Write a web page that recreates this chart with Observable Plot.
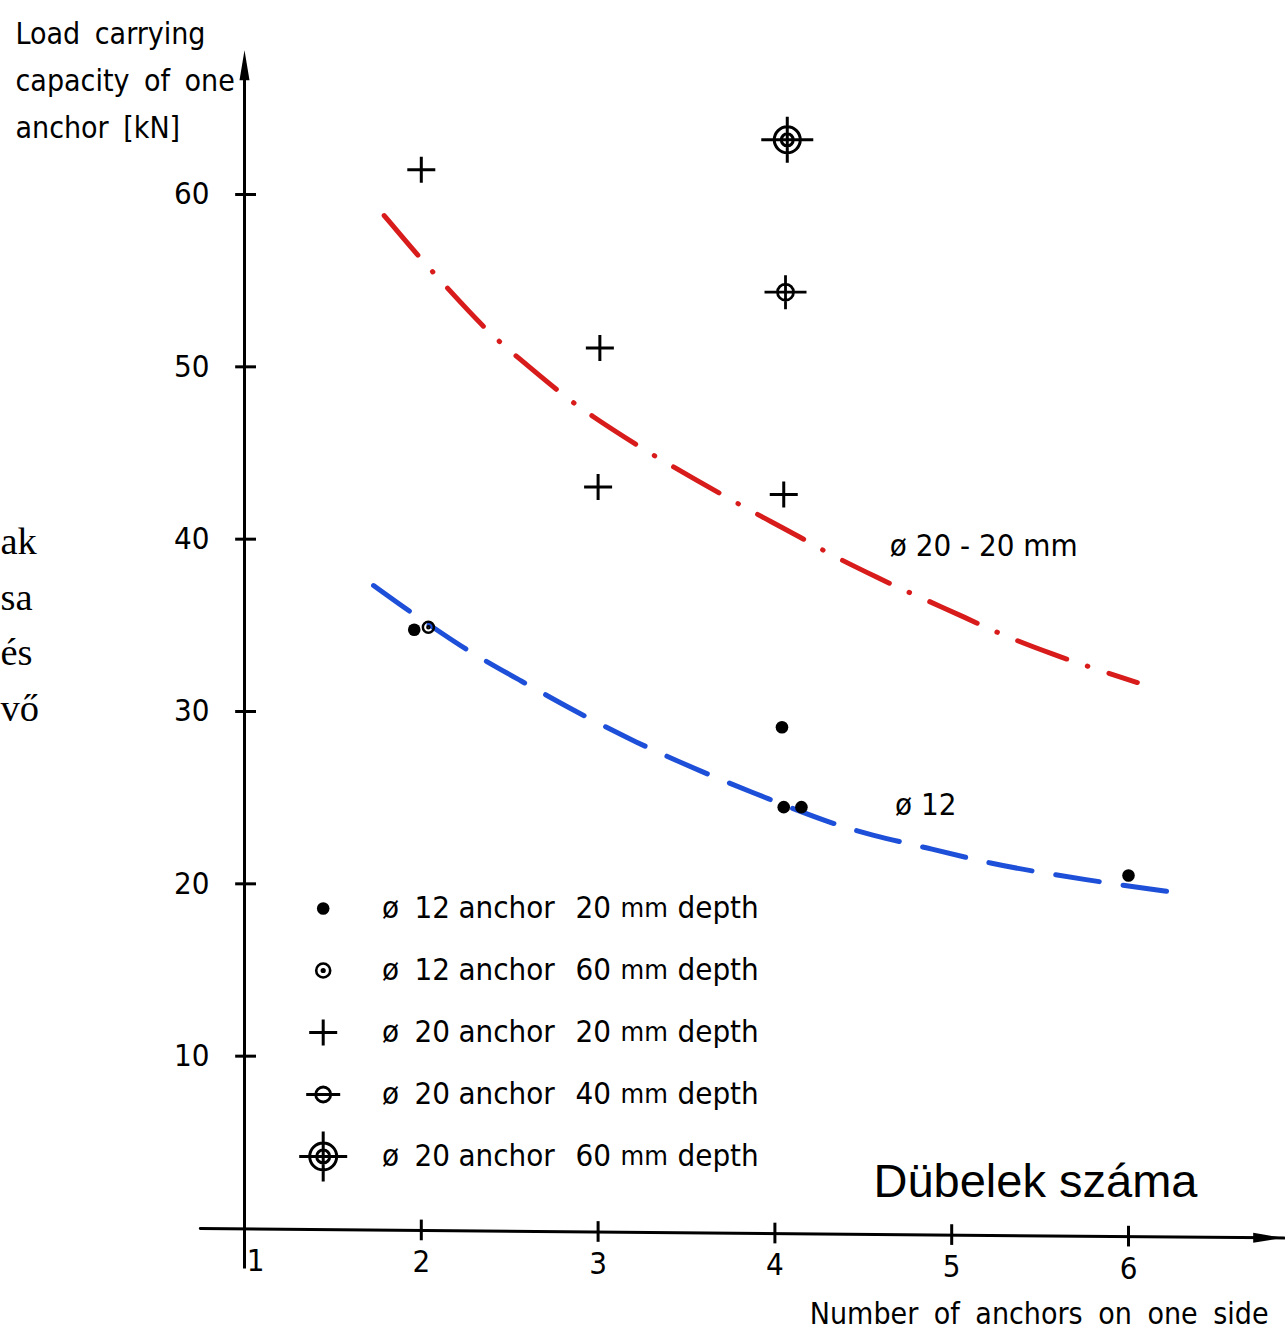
<!DOCTYPE html>
<html>
<head>
<meta charset="utf-8">
<script src="https://cdn.jsdelivr.net/npm/d3@7"></script>
<script src="https://cdn.jsdelivr.net/npm/@observablehq/plot@0.6"></script>
<style>
  html, body { margin: 0; padding: 0; background: #fff; }
  #chart svg { display: block; }
</style>
</head>
<body>
<div id="chart"></div>
<script>
// ---------------- data ----------------
const xTicks = [1, 2, 3, 4, 5, 6];
const yTicks = [10, 20, 30, 40, 50, 60];

// measured points [anchors on one side, load per anchor kN]
const dia12Depth20 = [[1.96, 34.74], [4.04, 29.09], [4.05, 24.45], [4.15, 24.45], [6.0, 20.48]];
const dia12Depth60 = [[2.04, 34.89]];
const dia20Depth20 = [[2.00, 61.43], [3.01, 51.10], [3.00, 43.02], [4.05, 42.59]];
const dia20Depth40 = [[4.06, 54.33]];
const dia20Depth60 = [[4.07, 63.17]];

// fitted curves
const curveDia20 = [[1.79, 58.78], [1.98, 56.46], [2.16, 54.43], [2.38, 51.99], [2.54, 50.60], [2.79, 48.45],
  [2.95, 47.23], [3.25, 45.26], [3.41, 44.28], [3.73, 42.42], [3.86, 41.66], [4.17, 39.98], [4.30, 39.17],
  [4.59, 37.72], [4.77, 36.85], [5.09, 35.40], [5.29, 34.41], [5.59, 33.25], [5.79, 32.55], [6.05, 31.68]];
const curveDia12 = [[1.73, 37.31], [1.94, 35.76], [2.12, 34.51], [2.29, 33.35], [2.56, 31.80], [2.86, 30.06],
  [3.21, 28.22], [3.59, 26.48], [3.94, 25.02], [4.30, 23.57], [4.55, 22.80], [4.89, 22.03], [5.22, 21.16],
  [5.55, 20.58], [5.91, 20.00], [6.25, 19.52]];

const curveLabels = [
  {x: 4.65, y: 39.6, text: "ø 20 - 20 mm"},
  {x: 4.68, y: 24.55, text: "ø 12"}
];

const legendRows = [
  ["ø", "12", "anchor", "20", "mm", "depth"],
  ["ø", "12", "anchor", "60", "mm", "depth"],
  ["ø", "20", "anchor", "20", "mm", "depth"],
  ["ø", "20", "anchor", "40", "mm", "depth"],
  ["ø", "20", "anchor", "60", "mm", "depth"]
];

const yTitle = "Load carrying\ncapacity of one\nanchor [kN]";
const xTitle = "Number of anchors on one side";
const huTitle = "Dübelek száma";
const sideText = "ak\nsa\nés\nvő";

// ---------------- layout / styles ----------------
const FONT = "'DejaVu Sans Condensed', 'DejaVu Sans', sans-serif";
const xAxisEnds = [[0.75, 0.0], [6.88, -0.55]];
const axisAt = x => xAxisEnds[0][1] + (x - xAxisEnds[0][0]) * (xAxisEnds[1][1] - xAxisEnds[0][1]) / (xAxisEnds[1][0] - xAxisEnds[0][0]);
const yAxisSpan = [-2.35, 67.0];

const circ = (ctx, r) => { ctx.moveTo(r, 0); ctx.arc(0, 0, r, 0, 2 * Math.PI); };
const symPlus = {draw(ctx) { ctx.moveTo(-14, 0); ctx.lineTo(14, 0); ctx.moveTo(0, -13); ctx.lineTo(0, 13); }};
const symRing = {draw(ctx) { circ(ctx, 5.5); circ(ctx, 1); }};
const symRingLegend = {draw(ctx) { circ(ctx, 7); circ(ctx, 1.3); }};
const symCircleCross = {draw(ctx) { circ(ctx, 8); ctx.moveTo(-21, 0); ctx.lineTo(21, 0); ctx.moveTo(0, -17); ctx.lineTo(0, 17); }};
const symCircleBar = {draw(ctx) { circ(ctx, 7.5); ctx.moveTo(-17, 0); ctx.lineTo(17, 0); }};
const symTarget = {draw(ctx) { circ(ctx, 13); circ(ctx, 6); ctx.moveTo(-26, 0); ctx.lineTo(26, 0); ctx.moveTo(0, -23); ctx.lineTo(0, 23); }};
const symTargetLegend = {draw(ctx) { circ(ctx, 13.5); circ(ctx, 6.5); ctx.moveTo(-24, 0); ctx.lineTo(24, 0); ctx.moveTo(0, -25); ctx.lineTo(0, 25); }};
const symArrow = {draw(ctx) { ctx.moveTo(0, -15); ctx.lineTo(5, 15); ctx.lineTo(-5, 15); ctx.closePath(); }};

const X = d => d[0], Y = d => d[1];

const legendSymbolMarks = [
  o => Plot.dot([0], {...o, r: 6.3, fill: "black", stroke: "none"}),
  o => Plot.dot([0], {...o, symbol: symRingLegend, stroke: "black", fill: "none", strokeWidth: 2.6}),
  o => Plot.dot([0], {...o, symbol: symPlus, stroke: "black", fill: "none", strokeWidth: 3}),
  o => Plot.dot([0], {...o, symbol: symCircleBar, stroke: "black", fill: "none", strokeWidth: 2.8}),
  o => Plot.dot([0], {...o, symbol: symTargetLegend, stroke: "black", fill: "none", strokeWidth: 3})
];
const legendCols = [
  {dx: 390, anchor: "middle", size: 31}, {dx: 414, anchor: "start", size: 31}, {dx: 458, anchor: "start", size: 31},
  {dx: 575, anchor: "start", size: 31}, {dx: 620, anchor: "start", size: 27}, {dx: 677, anchor: "start", size: 31}
];

const legendMarks = [];
legendRows.forEach((row, i) => {
  const dy = 908 + 62 * i;
  legendMarks.push(legendSymbolMarks[i]({frameAnchor: "top-left", dx: 322.7, dy}));
  row.forEach((word, j) => {
    legendMarks.push(Plot.text([word], {
      text: d => d, frameAnchor: "top-left", dx: legendCols[j].dx, dy,
      textAnchor: legendCols[j].anchor, lineAnchor: "middle",
      fontSize: legendCols[j].size, fontFamily: FONT, fill: "black"
    }));
  });
});

const chart = Plot.plot({
  width: 1285,
  height: 1330,
  margin: 0,
  style: {background: "white", color: "black"},
  x: {domain: [1, 6], range: [244, 1128], axis: null},
  y: {domain: [0, 60], range: [1228, 194], axis: null},
  marks: [
    // axes
    Plot.ruleX([1], {x: d => d, y1: yAxisSpan[0], y2: yAxisSpan[1], stroke: "black", strokeWidth: 3}),
    Plot.line(xAxisEnds, {x: X, y: Y, stroke: "black", strokeWidth: 3}),
    Plot.dot([0], {x: () => 1, y: () => 67.5, symbol: symArrow, fill: "black", stroke: "none"}),
    Plot.dot([0], {x: () => 6.79, y: () => axisAt(6.79), symbol: symArrow, rotate: 90, fill: "black", stroke: "none"}),
    Plot.ruleY(yTicks, {y: d => d, x1: () => 0.95, x2: () => 1.068, stroke: "black", strokeWidth: 3}),
    Plot.ruleX(xTicks.filter(d => d > 1), {x: d => d, y1: d => axisAt(d) - 0.6, y2: d => axisAt(d) + 0.6, stroke: "black", strokeWidth: 3}),
    Plot.text(yTicks, {x: () => 1, y: d => d, text: d => String(d), dx: -35, textAnchor: "end", lineAnchor: "middle", fontSize: 31, fontFamily: FONT, fill: "black"}),
    Plot.text(xTicks, {x: d => d, y: d => axisAt(d), text: d => String(d), dy: 32, textAnchor: "middle", lineAnchor: "middle", fontSize: 31, fontFamily: FONT, fill: "black"}),

    // curves
    Plot.line(curveDia20, {x: X, y: Y, curve: "basis", stroke: "#d81b1b", strokeWidth: 5, strokeDasharray: "52,22,0.5,22", strokeLinecap: "round"}),
    Plot.line(curveDia12, {x: X, y: Y, curve: "basis", stroke: "#1d4fd8", strokeWidth: 5, strokeDasharray: "44,24", strokeLinecap: "round"}),
    Plot.text(curveLabels, {x: "x", y: "y", text: "text", textAnchor: "start", lineAnchor: "middle", fontSize: 31, fontFamily: FONT, fill: "black"}),

    // measurements
    Plot.dot(dia12Depth20, {x: X, y: Y, r: 6.3, fill: "black", stroke: "none"}),
    Plot.dot(dia12Depth60, {x: X, y: Y, symbol: symRing, stroke: "black", fill: "none", strokeWidth: 2.5}),
    Plot.dot(dia20Depth20, {x: X, y: Y, symbol: symPlus, stroke: "black", fill: "none", strokeWidth: 3}),
    Plot.dot(dia20Depth40, {x: X, y: Y, symbol: symCircleCross, stroke: "black", fill: "none", strokeWidth: 2.8}),
    Plot.dot(dia20Depth60, {x: X, y: Y, symbol: symTarget, stroke: "black", fill: "none", strokeWidth: 3}),

    // legend
    ...legendMarks,

    // titles
    Plot.text([yTitle], {text: d => d, frameAnchor: "top-left", dx: 15, dy: 10, textAnchor: "start", lineAnchor: "top", lineHeight: 1.567, fontSize: 30, fontFamily: FONT, fill: "black"}),
    Plot.text([xTitle], {text: d => d, frameAnchor: "top-left", dx: 1268, dy: 1323, textAnchor: "end", lineAnchor: "bottom", fontSize: 30, fontFamily: FONT, fill: "black"}),
    Plot.text([huTitle], {text: d => d, frameAnchor: "top-left", dx: 873, dy: 1196, textAnchor: "start", lineAnchor: "bottom", fontSize: 47, fontFamily: "'Liberation Sans', Arial, sans-serif", fill: "black"}),
    Plot.text([sideText], {text: d => d, frameAnchor: "top-left", dx: 0, dy: 720, textAnchor: "start", lineAnchor: "bottom", lineHeight: 1.44, fontSize: 38.5, fontFamily: "'Liberation Serif', 'Times New Roman', serif", fill: "black"})
  ]
});

const texts = d3.select(chart).selectAll("text");
// nudge the "1" label right of the vertical axis
texts.filter(function() { return this.textContent === "1"; }).each(function() {
  const el = d3.select(this);
  el.attr("transform", (el.attr("transform") || "") + " translate(11,0)");
});
// wider word gaps, as in the drawn lettering
texts.filter(function() { return this.textContent === xTitle; }).attr("word-spacing", "7px");
texts.filter(function() { return this.textContent.replace(/\s/g, "") === yTitle.replace(/\s/g, ""); }).attr("word-spacing", "6px");

document.getElementById("chart").appendChild(chart);
</script>
</body>
</html>
